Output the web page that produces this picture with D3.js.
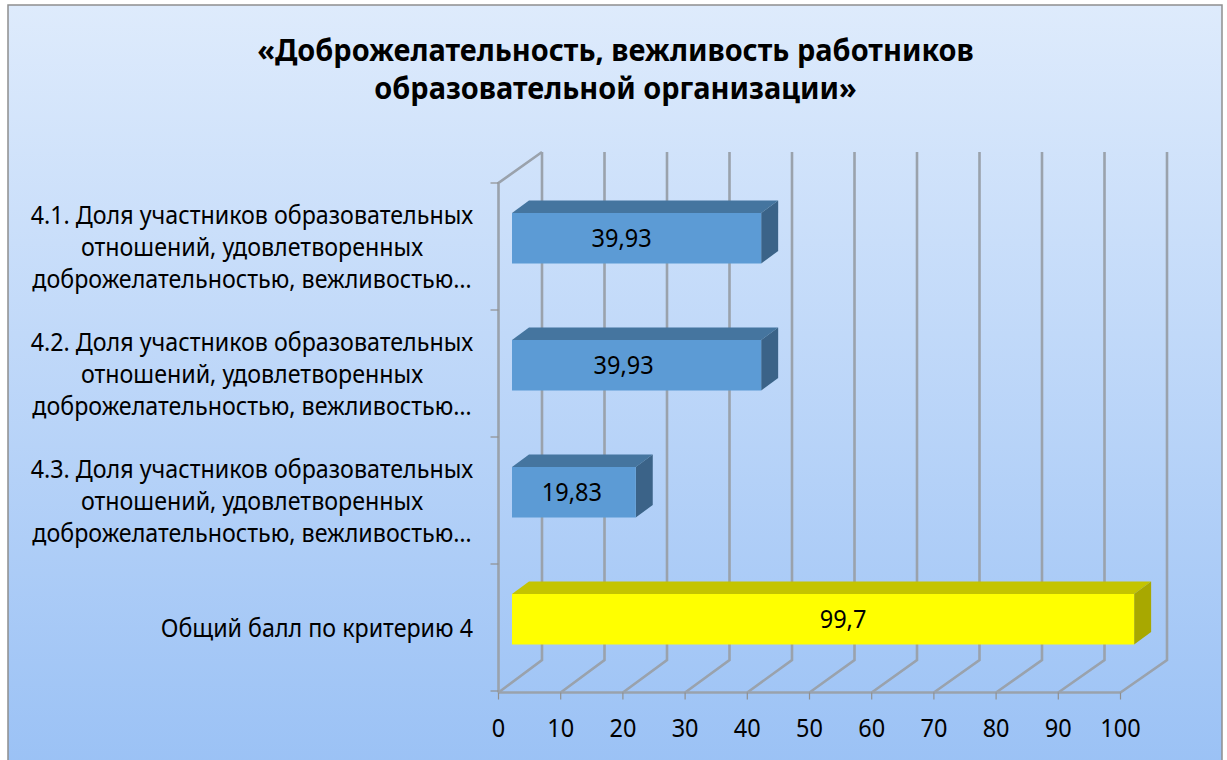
<!DOCTYPE html>
<html><head><meta charset="utf-8">
<script src="https://cdn.jsdelivr.net/npm/d3@7"></script>
<style>html,body{margin:0;padding:0;background:#fff;overflow:hidden}svg{display:block}text{font-family:"Noto Sans",sans-serif;fill:#000}</style>
</head><body><svg id="c" width="1227" height="760"></svg>
<script>
const categories = [
 ["4.1. Доля участников образовательных","отношений, удовлетворенных","доброжелательностью, вежливостью…"],
 ["4.2. Доля участников образовательных","отношений, удовлетворенных","доброжелательностью, вежливостью…"],
 ["4.3. Доля участников образовательных","отношений, удовлетворенных","доброжелательностью, вежливостью…"],
 ["Общий балл по критерию 4"]
];
const values = [39.93, 39.93, 19.83, 99.7];
const valueLabels = ["39,93","39,93","19,83","99,7"];
const titleLines = ["«Доброжелательность, вежливость работников","образовательной организации»"];
const labelShift = [-15,-13,-2,20];
const front = ["#5b9bd5","#5b9bd5","#5b9bd5","#ffff00"];
const topFace = ["#44759f","#44759f","#44759f","#c4c400"];
const sideFace = ["#3a6488","#3a6488","#3a6488","#a8a800"];

const svg = d3.select("#c");
const defs = svg.append("defs");
const g = defs.append("linearGradient").attr("id","bg").attr("x1",0).attr("y1",0).attr("x2",0).attr("y2",1);
g.append("stop").attr("offset",0).attr("stop-color","#deebfc");
g.append("stop").attr("offset",1).attr("stop-color","#9ac1f5");
defs.append("filter").attr("id","soft").append("feGaussianBlur").attr("stdDeviation",0.5);
svg.append("rect").attr("x",8).attr("y",5).attr("width",1214).attr("height",770)
  .attr("fill","url(#bg)").attr("stroke","#8f8f8f").attr("stroke-width",1.5);

const x = d3.scaleLinear().domain([0,100]).range([498.5,1120.5]);
const xBack = d3.scaleLinear().domain([0,100]).range([542,1167]);
const xBar = d3.scaleLinear().domain([0,100]).range([512,1136]);
const y = d3.scaleBand().domain(d3.range(categories.length)).range([183,691]);
const ticks = d3.range(0,101,10);
const floorY = 692.5, backFloorY = 660, gridCol="#9aa2ac", barDepth = {x:17,y:-12.5};
const pad = 30, barH = 50.5;

const grid = svg.append("g").attr("stroke",gridCol).attr("stroke-width",2.6).attr("fill","none").attr("filter","url(#soft)");
grid.selectAll("path.v").data(ticks).join("path").attr("class","v")
  .attr("d",d=>`M${x(d)},${floorY}L${xBack(d)},${backFloorY}V152`);
grid.append("path").attr("d",`M${x(0)},${floorY}H${x(100)}`);
grid.append("path").attr("d",`M${x(0)},${floorY}V${y.range()[0]}L${xBack(0)},152`);
const tk = svg.append("g").attr("stroke","#8f8f8f").attr("stroke-width",1.2);
tk.selectAll("line.b").data(ticks).join("line").attr("class","b")
  .attr("x1",d=>x(d)).attr("x2",d=>x(d)).attr("y1",floorY).attr("y2",floorY+7);
tk.selectAll("line.l").data(d3.range(categories.length+1)).join("line").attr("class","l")
  .attr("x1",x(0)-8).attr("x2",x(0)).attr("y1",i=>183+y.step()*i).attr("y2",i=>183+y.step()*i);

const X = xBar;
const bars = svg.append("g").selectAll("g").data(values).join("g").attr("filter","url(#soft)");
bars.append("path").attr("fill",(d,i)=>topFace[i])
  .attr("d",(d,i)=>{const t=y(i)+pad;return `M${X(0)},${t}L${X(0)+barDepth.x},${t+barDepth.y}H${X(d)+barDepth.x}L${X(d)},${t}Z`;});
bars.append("path").attr("fill",(d,i)=>sideFace[i])
  .attr("d",(d,i)=>{const t=y(i)+pad;return `M${X(d)},${t}L${X(d)+barDepth.x},${t+barDepth.y}V${t+barDepth.y+barH}L${X(d)},${t+barH}Z`;});
bars.append("rect").attr("fill",(d,i)=>front[i]).attr("x",X(0)).attr("y",(d,i)=>y(i)+pad)
  .attr("width",d=>X(d)-X(0)).attr("height",barH);

function squeeze(sel,f){sel.each(function(){this.setAttribute("textLength",this.getComputedTextLength()*f);this.setAttribute("lengthAdjust","spacingAndGlyphs");});}

svg.append("g").selectAll("text").data(values).join("text")
  .attr("x",(d,i)=>(X(0)+X(d))/2+labelShift[i]).attr("y",(d,i)=>y(i)+pad+barH/2+8.5)
  .attr("text-anchor","middle").attr("font-size",25).text((d,i)=>valueLabels[i]).call(squeeze,0.94);

svg.append("g").selectAll("text").data(ticks).join("text")
  .attr("x",d=>x(d)).attr("y",736.5).attr("text-anchor","middle").attr("font-size",25).text(d=>d).call(squeeze,0.94);

const cat = svg.append("g");
categories.forEach((lines,i)=>{
  const c = y(i)+y.bandwidth()/2+9, lh=32;
  lines.forEach((t,j)=>{
    const multi = lines.length>1;
    cat.append("text").attr("x",multi?252:473).attr("text-anchor",multi?"middle":"end")
      .attr("y",c+(j-(lines.length-1)/2)*lh).attr("font-size",25).text(t).call(squeeze,0.93);
  });
});

svg.append("g").selectAll("text").data(titleLines).join("text")
  .attr("x",615.5).attr("y",(d,i)=>60.5+i*38.5).attr("text-anchor","middle")
  .attr("font-size",31).attr("font-weight",700).text(d=>d).call(squeeze,0.933);
</script></body></html>
